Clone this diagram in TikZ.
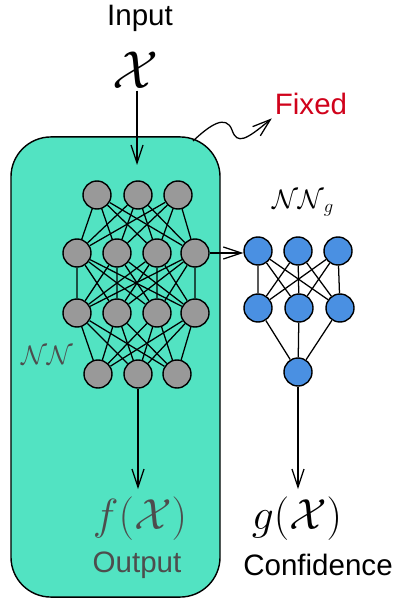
\RequirePackage{fix-cm}
\documentclass[tikz,border=0pt]{standalone}
\usepackage{fontspec}
\setmainfont{Liberation Sans}
\usetikzlibrary{arrows.meta}

\definecolor{frozenteal}{HTML}{52E3C2}
\definecolor{nodegray}{HTML}{999999}
\definecolor{nodeblue}{HTML}{4A90E2}
\definecolor{fixedred}{HTML}{D0021B}
\definecolor{textgray}{HTML}{4D4D4D}

\begin{document}
\begin{tikzpicture}[
    x=0.025cm, y=-0.025cm,
    frozenbox/.style={draw, fill=frozenteal, line width=1pt, rounded corners=1cm,
        minimum width=5.225cm, minimum height=11.5cm, inner sep=0pt},
    graynode/.style={circle, draw, fill=nodegray, line width=1pt, minimum size=7mm, inner sep=0pt},
    bluenode/.style={circle, draw, fill=nodeblue, line width=1pt, minimum size=7mm, inner sep=0pt},
    edge/.style={line width=0.9pt},
    dedge/.style={-{Straight Barb[length=4.5mm,width=3mm]}, line width=0.9pt}, % Directed edge style
    sanslabel/.style={anchor=base, inner sep=2pt, font=\fontsize{21}{25}\selectfont},
    mathlabel/.style={anchor=base, inner sep=5pt, font=\fontsize{31}{36}\selectfont}
]
    \useasboundingbox (0,0) rectangle (394,603);

    % Fixed network box
    \node[frozenbox] (nnbox) at (115.5,367) {};

    % Gray network (fixed)
    \node[graynode] (g11) at (97,195) {};
    \node[graynode] (g12) at (138,195) {};
    \node[graynode] (g13) at (178,195) {};

    \node[graynode] (g21) at (77,253) {};
    \node[graynode] (g22) at (117,253) {};
    \node[graynode] (g23) at (157,253) {};
    \node[graynode] (g24) at (195,253) {};

    \node[graynode] (g31) at (77,313) {};
    \node[graynode] (g32) at (117,313) {};
    \node[graynode] (g33) at (157,313) {};
    \node[graynode] (g34) at (195,313) {};

    \node[graynode] (g41) at (98,374) {};
    \node[graynode] (g42) at (138,374) {};
    \node[graynode] (g43) at (177,374) {};

    % Blue network (confidence head)
    \node[bluenode] (b11) at (258,251) {};
    \node[bluenode] (b12) at (298,251) {};
    \node[bluenode] (b13) at (338,251) {};

    \node[bluenode] (b21) at (258,308) {};
    \node[bluenode] (b22) at (299,308) {};
    \node[bluenode] (b23) at (340,308) {};

    \node[bluenode] (b31) at (298,372) {};

    % Gray layer 1 to layer 2
    \draw[edge] (g11) -- (g21) (g11) -- (g22) (g11) -- (g23) (g11) -- (g24);
    \draw[edge] (g12) -- (g21) (g12) -- (g22) (g12) -- (g23) (g12) -- (g24);
    \draw[edge] (g13) -- (g21) (g13) -- (g22) (g13) -- (g23) (g13) -- (g24);

    % Gray layer 2 to layer 3
    \draw[edge] (g21) -- (g31) (g21) -- (g32) (g21) -- (g33) (g21) -- (g34);
    \draw[edge] (g22) -- (g31) (g22) -- (g32) (g22) -- (g33) (g22) -- (g34);
    \draw[edge] (g23) -- (g31) (g23) -- (g32) (g23) -- (g33) (g23) -- (g34);
    \draw[edge] (g24) -- (g31) (g24) -- (g32) (g24) -- (g33) (g24) -- (g34);

    % Gray layer 3 to layer 4
    \draw[edge] (g31) -- (g41) (g31) -- (g42) (g31) -- (g43);
    \draw[edge] (g32) -- (g41) (g32) -- (g42) (g32) -- (g43);
    \draw[edge] (g33) -- (g41) (g33) -- (g42) (g33) -- (g43);
    \draw[edge] (g34) -- (g41) (g34) -- (g42) (g34) -- (g43);

    % Blue layers
    \draw[edge] (b11) -- (b21) (b11) -- (b22) (b11) -- (b23);
    \draw[edge] (b12) -- (b21) (b12) -- (b22) (b12) -- (b23);
    \draw[edge] (b13) -- (b21) (b13) -- (b22) (b13) -- (b23);
    \draw[edge] (b21) -- (b31) (b22) -- (b31) (b23) -- (b31);

    % Labels
    \node[sanslabel] (input) at (140,26) {Input};
    \node[mathlabel, inner sep=1pt, font=\fontsize{38}{44}\selectfont] (xin) at (135,89) {$\mathcal{X}$};
    \node[sanslabel, text=fixedred] (fixed) at (311,115) {Fixed};
    \node[anchor=base, text=textgray, font=\fontsize{19}{23}\selectfont] (nnlabel) at (47,364) {$\mathcal{NN}$};
    \node[anchor=base, font=\fontsize{19}{23}\selectfont] (nnglabel) at (303,208) {$\mathcal{NN}_g$};
    \node[mathlabel, text=textgray] (fx) at (140,529) {$f(\mathcal{X})$};
    \node[mathlabel] (gx) at (297,529) {$g(\mathcal{X})$};
    \node[sanslabel, text=textgray] (output) at (137,572) {Output};
    \node[sanslabel] (confidence) at (318,575) {Confidence};

    % Arrows
    \coordinate (xend) at (137,165);
    \coordinate (fixfrom) at (193,141);
    \draw[dedge] (xin.south -| xend) -- (xend);
    \draw[dedge] (fixfrom) .. controls (210,125) and (226,114) .. (232,130)
        .. controls (237,145) and (246,140) .. (fixed.south west);
    \draw[dedge] (g24.east) -- (g24.east -| b11.west);
    \draw[dedge] (g42) -- (g42 |- fx.north);
    \draw[dedge] (b31) -- (b31 |- gx.north);

\end{tikzpicture}
\end{document}
